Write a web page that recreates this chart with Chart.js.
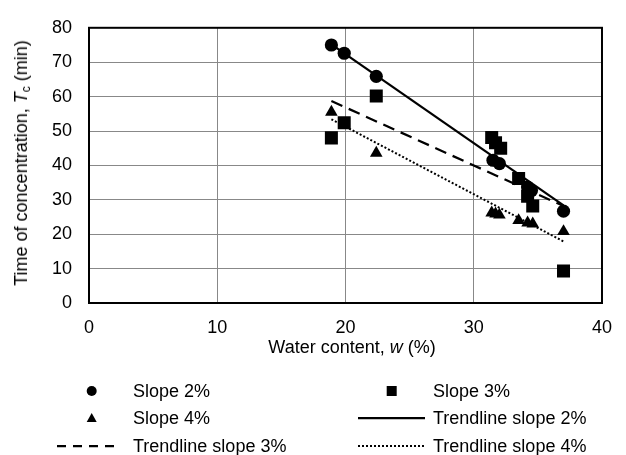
<!DOCTYPE html>
<html><head><meta charset="utf-8">
<script src="https://cdn.jsdelivr.net/npm/chart.js@4.4.1/dist/chart.umd.min.js"></script>
<style>
html,body{margin:0;padding:0;background:#fff;}
#wrap{position:relative;width:626px;height:455px;font-family:"Liberation Sans",Arial,sans-serif;color:#000;overflow:hidden;}
canvas{position:absolute;left:0;top:0;}
.t{position:absolute;font-size:18px;line-height:18px;white-space:nowrap;}
svg{position:absolute;left:0;top:0;}
</style></head><body>
<div id="wrap">
<canvas id="c" width="626" height="455"></canvas>
<div class="t" id="ytitle" style="left:22px;top:163px;transform:translate(-50%,-50%) rotate(-90deg);">Time of concentration, <i>T</i><span style="font-size:12px;position:relative;top:3px;">c</span> (min)</div>
<div class="t" id="xtitle" style="left:352px;top:338px;transform:translateX(-50%);">Water content, <i>w</i> (%)</div>
<svg id="legsvg" width="626" height="455"></svg>
<div id="legend"></div>
</div>
<script>
// ---- data ----
const xTicks = [0, 10, 20, 30, 40];
const yTicks = [0, 10, 20, 30, 40, 50, 60, 70, 80];

const w2  = [18.9, 19.9, 22.4, 31.5, 32.0, 34.2, 34.5, 37.0];
const tc2 = [75.0, 72.6, 65.9, 41.5, 40.5, 33.7, 32.7, 26.7];

const w3  = [18.9, 19.9, 22.4, 31.4, 31.7, 32.1, 33.5, 34.2, 34.6, 37.0];
const tc3 = [48.0, 52.4, 60.2, 48.1, 46.6, 45.0, 36.2, 31.0, 28.2, 9.3];

const w4  = [18.9, 22.4, 31.4, 31.7, 32.0, 33.5, 34.2, 34.6, 37.0];
const tc4 = [55.5, 43.6, 26.2, 25.9, 25.6, 24.0, 23.3, 23.0, 20.8];

const trendW   = [18.9, 37.0];
const trend2Tc = [75.2, 28.4];
const trend3Tc = [58.7, 28.2];
const trend4Tc = [53.4, 17.9];

const labels = ["Slope 2%", "Slope 3%", "Slope 4%", "Trendline slope 2%", "Trendline slope 3%", "Trendline slope 4%"];

function pts(xs, ys){ return xs.map((x,i)=>({x:x, y:ys[i]})); }

const FONT = {family:'"Liberation Sans", Arial, sans-serif', size:18};

const borderPlugin = {
  id:'plotBorder',
  beforeDatasetsDraw(chart){
    const a = chart.chartArea, ctx = chart.ctx;
    ctx.save();
    ctx.strokeStyle = '#000';
    ctx.lineWidth = 2;
    ctx.strokeRect(a.left, a.top, a.right - a.left, a.bottom - a.top);
    ctx.restore();
  }
};

new Chart(document.getElementById('c'), {
  type:'scatter',
  data:{
    datasets:[
      {label:labels[3], data:pts(trendW, trend2Tc), showLine:true, borderColor:'#000', borderWidth:2.25, pointRadius:0, fill:false},
      {label:labels[4], data:pts(trendW, trend3Tc), showLine:true, borderColor:'#000', borderWidth:2.25, borderDash:[12,7], pointRadius:0, fill:false},
      {label:labels[5], data:pts(trendW, trend4Tc), showLine:true, borderColor:'#000', borderWidth:2, borderDash:[2,2], pointRadius:0, fill:false},
      {label:labels[0], data:pts(w2, tc2), pointStyle:'circle', pointRadius:6.6, backgroundColor:'#000', borderColor:'#000', pointBorderWidth:0},
      {label:labels[1], data:pts(w3, tc3), pointStyle:'rect', pointRadius:9.2, backgroundColor:'#000', borderColor:'#000', pointBorderWidth:0},
      {label:labels[2], data:pts(w4, tc4), pointStyle:'triangle', pointRadius:7.3, backgroundColor:'#000', borderColor:'#000', pointBorderWidth:0}
    ]
  },
  options:{
    responsive:false, animation:false, devicePixelRatio:1,
    layout:{padding:{top:23, right:11, bottom:112, left:0}},
    plugins:{legend:{display:false}, tooltip:{enabled:false}, title:{display:false}},
    scales:{
      x:{
        type:'linear', min:0, max:40,
        afterBuildTicks(s){ s.ticks = xTicks.map(v=>({value:v})); },
        afterFit(s){ s.height = 40; },
        ticks:{font:FONT, color:'#000', padding:14, maxRotation:0},
        grid:{color:'#888', lineWidth:1, drawTicks:false},
        border:{display:false}
      },
      y:{
        type:'linear', min:0, max:80,
        afterBuildTicks(s){ s.ticks = yTicks.map(v=>({value:v})); },
        afterFit(s){ s.width = 89; },
        ticks:{font:FONT, color:'#000', padding:17},
        grid:{color:'#888', lineWidth:1, drawTicks:false},
        border:{display:false}
      }
    }
  },
  plugins:[borderPlugin]
});

// ---- legend (HTML text + SVG keys) ----
const legendItems = [
  {label:labels[0], key:'circle', kx:91.7, tx:133, cy:391},
  {label:labels[1], key:'square', kx:391.7, tx:433, cy:391},
  {label:labels[2], key:'triangle', kx:91.7, tx:133, cy:418},
  {label:labels[3], key:'solid', kx:[358,425], tx:433, cy:418},
  {label:labels[4], key:'dash', kx:[57,120], tx:133, cy:446},
  {label:labels[5], key:'dot', kx:[358,425], tx:433, cy:446}
];
const svg = document.getElementById('legsvg');
const leg = document.getElementById('legend');
const NS = 'http://www.w3.org/2000/svg';
legendItems.forEach(it=>{
  let el;
  if (it.key==='circle'){
    el = document.createElementNS(NS,'circle');
    el.setAttribute('cx',it.kx); el.setAttribute('cy',it.cy); el.setAttribute('r',5);
    el.setAttribute('fill','#000');
  } else if (it.key==='square'){
    el = document.createElementNS(NS,'rect');
    el.setAttribute('x',it.kx-5); el.setAttribute('y',it.cy-5); el.setAttribute('width',10); el.setAttribute('height',10);
    el.setAttribute('fill','#000');
  } else if (it.key==='triangle'){
    el = document.createElementNS(NS,'polygon');
    const x=it.kx, y=it.cy;
    el.setAttribute('points', `${x},${y-5} ${x+5},${y+4} ${x-5},${y+4}`);
    el.setAttribute('fill','#000');
  } else {
    el = document.createElementNS(NS,'line');
    el.setAttribute('x1',it.kx[0]); el.setAttribute('x2',it.kx[1]);
    el.setAttribute('y1',it.cy); el.setAttribute('y2',it.cy);
    el.setAttribute('stroke','#000');
    el.setAttribute('stroke-width', it.key==='dot' ? 2 : 2.25);
    if (it.key==='dash') el.setAttribute('stroke-dasharray','9 7');
    if (it.key==='dot') el.setAttribute('stroke-dasharray','2 2');
  }
  svg.appendChild(el);
  const d = document.createElement('div');
  d.className = 't';
  d.style.left = it.tx + 'px';
  d.style.top = (it.cy - 8.8) + 'px';
  d.textContent = it.label;
  leg.appendChild(d);
});
</script>
</body></html>
